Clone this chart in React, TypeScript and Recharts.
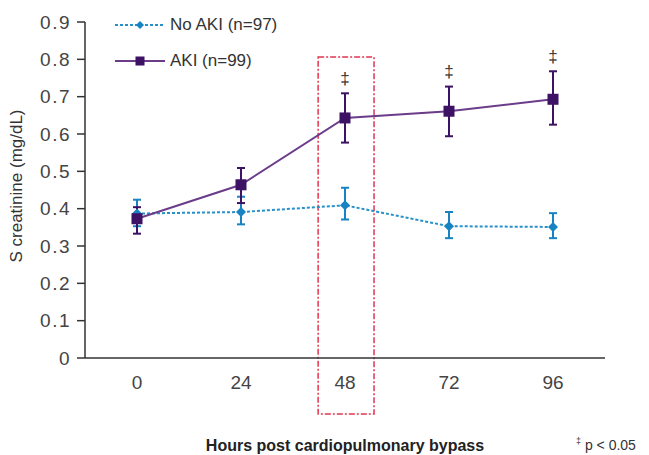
import React from 'react';
import { LineChart, Line, XAxis, YAxis, ErrorBar, ReferenceArea, LabelList, Legend } from 'recharts';

const hours = [0, 24, 48, 72, 96];
const noAkiMean = [0.387, 0.391, 0.409, 0.353, 0.351];
const noAkiLow = [0.353, 0.358, 0.371, 0.321, 0.321];
const noAkiHigh = [0.424, 0.432, 0.456, 0.391, 0.388];
const akiMean = [0.373, 0.464, 0.643, 0.661, 0.693];
const akiLow = [0.333, 0.415, 0.577, 0.594, 0.625];
const akiHigh = [0.404, 0.509, 0.709, 0.727, 0.768];
const akiSignificant = [false, false, true, true, true];
const yTicks = [0, 0.1, 0.2, 0.3, 0.4, 0.5, 0.6, 0.7, 0.8, 0.9];
const xBoundaryTicks = [-12, 12, 36, 60, 84, 108];
const highlightBox = { x1: 41.8, x2: 54.7, y1: -0.15, y2: 0.806 };

const seriesNames = ['No AKI (n=97)', 'AKI (n=99)'];
const BLUE = '#2690c9';
const BLUE_DARK = '#1883c2';
const PURPLE_LINE = '#6a3c8a';
const PURPLE = '#3d1163';
const FONT = '"Liberation Sans", Arial, sans-serif';

const data = hours.map((h, i) => ({
  hour: h,
  noAki: noAkiMean[i],
  noAkiErr: [noAkiMean[i] - noAkiLow[i], noAkiHigh[i] - noAkiMean[i]],
  aki: akiMean[i],
  akiErr: [akiMean[i] - akiLow[i], akiHigh[i] - akiMean[i]],
  akiHi: akiHigh[i],
  sig: akiSignificant[i],
}));

const Diamond = (props: any) => {
  const { cx, cy } = props;
  if (cx == null || cy == null) return null;
  return <polygon points={`${cx},${cy - 5} ${cx + 5},${cy} ${cx},${cy + 5} ${cx - 5},${cy}`} fill={BLUE_DARK} />;
};

const Square = (props: any) => {
  const { cx, cy } = props;
  if (cx == null || cy == null) return null;
  return <rect x={cx - 5.5} y={cy - 5.5} width={11} height={11} fill={PURPLE} />;
};

const SigLabel = (props: any) => {
  const { x, y, index } = props;
  if (!data[index] || !data[index].sig) return null;
  return (
    <text x={x} y={y - 15} textAnchor="middle" dominantBaseline="central" fontSize={17} fill="#333" fontFamily={FONT}>
      ‡
    </text>
  );
};

const LegendContent = () => (
  <div style={{ fontFamily: FONT, fontSize: 17, color: '#333' }}>
    <div style={{ display: 'flex', alignItems: 'center', height: 36 }}>
      <svg width={50} height={14} style={{ marginRight: 5 }}>
        <line x1={0} y1={7} x2={50} y2={7} stroke={BLUE} strokeWidth={2} strokeDasharray="3 2" />
        <polygon points="25,3 29,7 25,11 21,7" fill={BLUE_DARK} />
      </svg>
      <span>{seriesNames[0]}</span>
    </div>
    <div style={{ display: 'flex', alignItems: 'center', height: 36 }}>
      <svg width={50} height={14} style={{ marginRight: 5 }}>
        <line x1={0} y1={7} x2={50} y2={7} stroke={PURPLE_LINE} strokeWidth={2} />
        <rect x={20.5} y={2.5} width={9} height={9} fill={PURPLE} />
      </svg>
      <span>{seriesNames[1]}</span>
    </div>
  </div>
);

const YLabel = (props: any) => {
  const vb = props.viewBox || {};
  const cx = vb.x + 16;
  const cy = vb.y + vb.height / 2 - 4;
  return (
    <text x={cx} y={cy} transform={`rotate(-90, ${cx}, ${cy})`} textAnchor="middle" dominantBaseline="central" fontSize={17} fill="#333" fontFamily={FONT}>
      S creatinine (mg/dL)
    </text>
  );
};

export default function App() {
  return (
    <div style={{ position: 'absolute', left: 0, top: 0, width: 649, height: 455, background: '#fff' }}>
      <LineChart width={649} height={455} data={data} margin={{ top: 22, right: 44, left: 0, bottom: 0 }}>
        <XAxis
          xAxisId={0}
          dataKey="hour"
          type="number"
          domain={[-12, 108]}
          ticks={xBoundaryTicks}
          tick={false}
          tickSize={9}
          height={10}
          axisLine={{ stroke: '#333', strokeWidth: 1.5 }}
          tickLine={{ stroke: '#333', strokeWidth: 1.5 }}
        />
        <XAxis
          xAxisId="lbl"
          dataKey="hour"
          type="number"
          domain={[-12, 108]}
          ticks={hours}
          axisLine={false}
          tickLine={false}
          tickSize={0}
          tickMargin={8}
          height={87}
          tick={{ fontSize: 19, fill: '#444', fontFamily: FONT }}
          label={{ value: 'Hours post cardiopulmonary bypass', position: 'insideBottom', offset: 4, fontSize: 16, fontWeight: 'bold', fill: '#222', fontFamily: FONT }}
        />
        <YAxis
          type="number"
          domain={[0, 0.9]}
          ticks={yTicks}
          width={85}
          tickSize={8}
          tickMargin={6}
          tickFormatter={(v: number) => (v === 0 ? '0' : v.toFixed(1))}
          tick={{ fontSize: 19, fill: '#444', fontFamily: FONT, letterSpacing: 1.5 }}
          axisLine={{ stroke: '#333', strokeWidth: 1.5 }}
          tickLine={{ stroke: '#333', strokeWidth: 1.5 }}
          label={<YLabel />}
        />
        <Legend
          layout="vertical"
          align="center"
          verticalAlign="middle"
          content={<LegendContent />}
          wrapperStyle={{ position: 'absolute', top: 7, left: 115, width: 'auto', height: 'auto' }}
        />
        <Line
          dataKey="noAki"
          stroke={BLUE}
          strokeWidth={2}
          strokeDasharray="3 2"
          dot={<Diamond />}
          activeDot={false}
          isAnimationActive={false}
        >
          <ErrorBar dataKey="noAkiErr" direction="y" width={4} stroke={BLUE_DARK} strokeWidth={2} />
        </Line>
        <Line
          dataKey="aki"
          stroke={PURPLE_LINE}
          strokeWidth={2}
          dot={<Square />}
          activeDot={false}
          isAnimationActive={false}
        >
          <ErrorBar dataKey="akiErr" direction="y" width={4} stroke={PURPLE} strokeWidth={2} />
        </Line>
        <Line dataKey="akiHi" stroke="none" dot={false} activeDot={false} legendType="none" isAnimationActive={false}>
          <LabelList dataKey="akiHi" content={<SigLabel />} />
        </Line>
        <ReferenceArea
          x1={highlightBox.x1}
          x2={highlightBox.x2}
          y1={highlightBox.y1}
          y2={highlightBox.y2}
          ifOverflow="visible"
          fill="none"
          fillOpacity={0}
          stroke="#e23550"
          strokeWidth={1.5}
          strokeDasharray="6 2 2 2"
        />
      </LineChart>
      <div style={{ position: 'absolute', left: 576, top: 436, fontFamily: FONT, fontSize: 14, color: '#333', whiteSpace: 'nowrap' }}>
        <span style={{ fontSize: 9, verticalAlign: 'super' }}>‡</span> p &lt; 0.05
      </div>
    </div>
  );
}
